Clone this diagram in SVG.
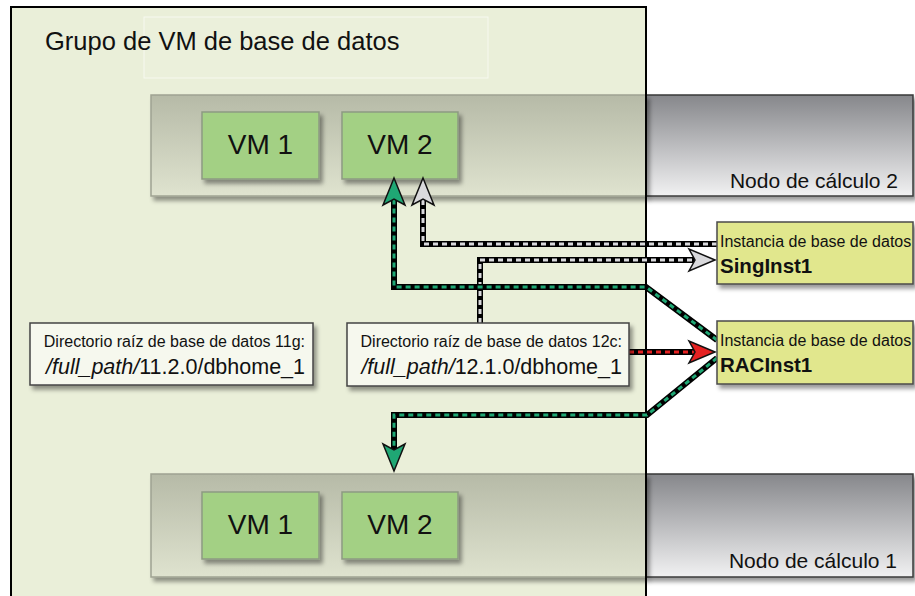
<svg xmlns="http://www.w3.org/2000/svg" width="915" height="596" viewBox="0 0 915 596">
  <defs>
    <linearGradient id="gradHost" x1="0" y1="0" x2="0" y2="1">
      <stop offset="0" stop-color="#86878b"/>
      <stop offset="1" stop-color="#f1f1f2"/>
    </linearGradient>
    <linearGradient id="gradHostIn" x1="0" y1="0" x2="0" y2="1">
      <stop offset="0" stop-color="#b6baa7"/>
      <stop offset="1" stop-color="#dfe3cf"/>
    </linearGradient>
    <filter id="shadow" x="-10%" y="-10%" width="130%" height="140%">
      <feDropShadow dx="3" dy="4" stdDeviation="2" flood-color="#000" flood-opacity="0.4"/>
    </filter>
  </defs>
  <style>
    text { font-family: "Liberation Sans", Arial, sans-serif; fill: #111; }
    .host { fill: url(#gradHost); stroke: #3a3a3a; stroke-width: 1.5; }
    .hostIn { fill: url(#gradHostIn); stroke: #9fa392; stroke-width: 1.5; }
    .vm { fill: #a3d084; stroke: #8d9a82; stroke-width: 1.5; }
    .vmText { font-size: 28px; text-anchor: middle; }
    .hostText { font-size: 21px; text-anchor: end; }
    .inst { fill: #e1e78d; stroke: #4a4a4a; stroke-width: 1.5; }
    .instSmall { font-size: 16px; }
    .instBig { font-size: 20.5px; font-weight: bold; }
    .dir { fill: #f6f8ee; stroke: #444; stroke-width: 1.5; }
    .dirSmall { font-size: 16px; text-anchor: end; }
    .dirBig { font-size: 21.5px; text-anchor: end; }
    .wire { fill: none; stroke: #000; stroke-width: 6; stroke-linejoin: miter; }
    .dash { fill: none; stroke-width: 3; stroke-dasharray: 5 4; stroke-linejoin: miter; }
    .grey { stroke: #d9d9dc; }
    .green { stroke: #1fa774; }
    .red { stroke: #e52222; }
    .head { stroke: #111; stroke-width: 1.5; stroke-linejoin: miter; }
  </style>

  <rect width="915" height="596" fill="#ffffff"/>

  <!-- pool background -->
  <rect id="pool-fill" x="11" y="7" width="635" height="600" fill="#eaefd9"/>
  <rect x="144" y="17" width="344" height="61" fill="#ebf0db" stroke="#ffffff" stroke-opacity="0.6" stroke-width="1"/>
  <text x="45" y="50" font-size="25.5">Grupo de VM de base de datos</text>

  <!-- compute node 2 -->
  <g id="compute-node-2">
    <rect class="host" x="646" y="95" width="267" height="101" filter="url(#shadow)"/>
    <rect class="hostIn" x="151" y="95" width="495" height="101" filter="url(#shadow)"/>
    <text class="hostText" x="898" y="188">Nodo de cálculo 2</text>
  </g>
  <g id="node2-vm1">
    <rect class="vm" x="202" y="112" width="117" height="67" filter="url(#shadow)"/>
    <text class="vmText" x="260.5" y="154">VM 1</text>
  </g>
  <g id="node2-vm2">
    <rect class="vm" x="342" y="112" width="116" height="67" filter="url(#shadow)"/>
    <text class="vmText" x="400" y="154">VM 2</text>
  </g>

  <!-- compute node 1 -->
  <g id="compute-node-1">
    <rect class="host" x="646" y="474" width="267" height="103" filter="url(#shadow)"/>
    <rect class="hostIn" x="151" y="474" width="495" height="103" filter="url(#shadow)"/>
    <text class="hostText" x="897" y="568">Nodo de cálculo 1</text>
  </g>
  <g id="node1-vm1">
    <rect class="vm" x="202" y="492" width="117" height="67" filter="url(#shadow)"/>
    <text class="vmText" x="260.5" y="534">VM 1</text>
  </g>
  <g id="node1-vm2">
    <rect class="vm" x="342" y="492" width="116" height="67" filter="url(#shadow)"/>
    <text class="vmText" x="400" y="534">VM 2</text>
  </g>

  <!-- pool border -->
  <rect id="pool" x="11" y="7" width="635" height="600" fill="none" stroke="#000" stroke-width="2"/>

  <!-- connectors -->
  <g id="connectors">
    <path class="wire" d="M717,244 H423 V200"/>
    <path class="dash grey" d="M717,244 H423 V200"/>
    <polygon class="head" fill="#d9d9dc" points="423,178 434,205 423,199 412,205"/>

    <path class="wire" d="M480,323 V260 H695"/>
    <path class="dash grey" d="M480,323 V260 H695"/>
    <polygon class="head" fill="#d9d9dc" points="715,260 689,249 695,260 689,271"/>

    <path class="wire" d="M717,340 L646,287 H394 V200"/>
    <path class="dash green" d="M717,340 L646,287 H394 V200"/>
    <polygon class="head" fill="#1fa774" points="394,178 405,205 394,199 383,205"/>

    <path class="wire" d="M717,358 L647,415 H394 V450"/>
    <path class="dash green" d="M717,358 L647,415 H394 V450"/>
    <polygon class="head" fill="#1fa774" points="394,471 383,444 394,450 405,444"/>

    <path class="wire" d="M629,352 H695"/>
    <path class="dash red" d="M629,352 H695"/>
    <polygon class="head" fill="#e52222" points="715,352 689,341 695,352 689,363"/>
  </g>

  <!-- database homes -->
  <g id="home-11g">
    <rect class="dir" x="30" y="323" width="283" height="62" filter="url(#shadow)"/>
    <text class="dirSmall" x="305" y="347">Directorio raíz de base de datos 11g:</text>
    <text class="dirBig" x="305" y="374"><tspan font-style="italic">/full_path/</tspan>11.2.0/dbhome_1</text>
  </g>
  <g id="home-12c">
    <rect class="dir" x="347" y="323" width="282" height="63" filter="url(#shadow)"/>
    <text class="dirSmall" x="622" y="347">Directorio raíz de base de datos 12c:</text>
    <text class="dirBig" x="622" y="374"><tspan font-style="italic">/full_path/</tspan>12.1.0/dbhome_1</text>
  </g>

  <!-- database instances -->
  <g id="inst-single">
    <rect class="inst" x="717" y="222" width="196" height="62" filter="url(#shadow)"/>
    <text class="instSmall" x="720" y="247">Instancia de base de datos</text>
    <text class="instBig" x="720" y="273">SingInst1</text>
  </g>
  <g id="inst-rac">
    <rect class="inst" x="717" y="321" width="196" height="63" filter="url(#shadow)"/>
    <text class="instSmall" x="720" y="346">Instancia de base de datos</text>
    <text class="instBig" x="720" y="372">RACInst1</text>
  </g>
</svg>
